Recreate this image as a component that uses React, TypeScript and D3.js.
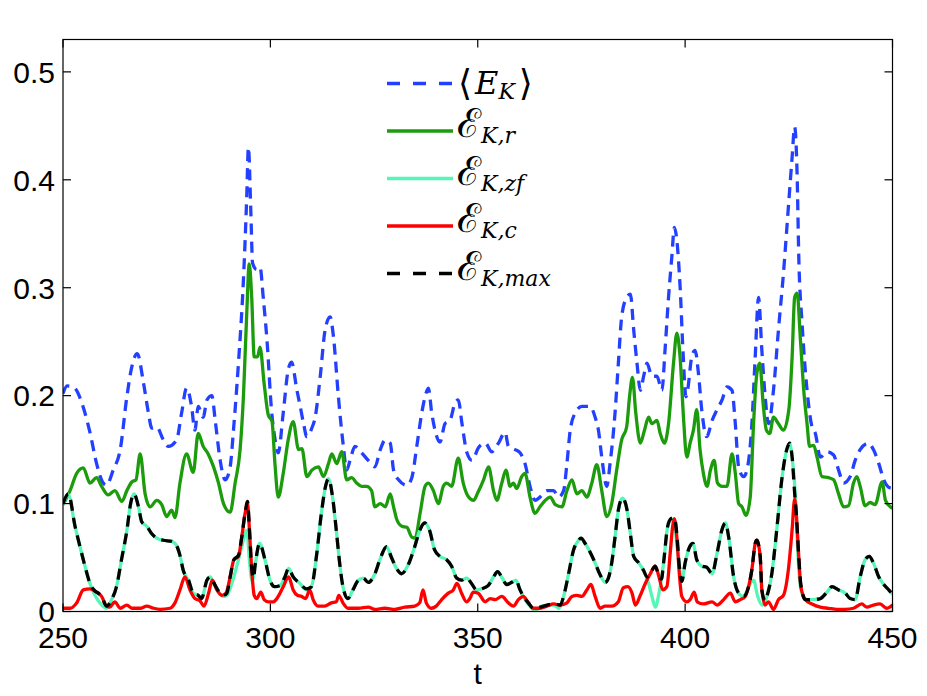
import * as d3 from 'd3';

// axis ticks
const xTicks = [250, 300, 350, 400, 450];
const yTicks = [0, 0.1, 0.2, 0.3, 0.4, 0.5];

// <E_K>  (t, value)
const meanEK: [number, number][] = [
  [250,0.202],[251,0.209],[252.5,0.208],[254.9,0.189],[256.5,0.166],[258.1,0.137],[259.7,0.119],[260.5,0.117],
  [262.1,0.131],[263.8,0.150],[265.4,0.199],[266.6,0.227],[267.9,0.239],[269.4,0.212],[270.6,0.184],[271.4,0.170],
  [272.6,0.171],[274.2,0.159],[275.4,0.153],[277.4,0.159],[278.6,0.184],[279.8,0.207],[281.0,0.190],[281.8,0.168],
  [282.6,0.190],[283.8,0.180],[284.7,0.196],[285.9,0.200],[286.7,0.177],[287.9,0.140],[289.1,0.122],[290.3,0.134],
  [291.1,0.168],[292.3,0.230],[293.5,0.307],[294.3,0.384],[294.7,0.430],[295.3,0.369],[295.7,0.323],[296.7,0.317],
  [297.5,0.319],[298.3,0.290],[299.3,0.245],[300.2,0.190],[301.1,0.160],[301.9,0.147],[303.1,0.184],[304.3,0.224],
  [305.1,0.231],[306.4,0.205],[307.2,0.190],[308.0,0.174],[308.8,0.162],[310.0,0.170],[310.8,0.180],[312.0,0.217],
  [313.2,0.261],[314.4,0.273],[315.2,0.255],[316.4,0.199],[317.6,0.153],[318.4,0.131],[319.2,0.140],[320.4,0.153],
  [322.0,0.147],[323.6,0.140],[325.2,0.134],[326.5,0.150],[327.7,0.159],[328.9,0.156],[329.7,0.131],[330.9,0.122],
  [332.9,0.117],[334.1,0.124],[335.3,0.153],[336.5,0.184],[337.3,0.199],[338.1,0.207],[338.9,0.184],[339.7,0.168],
  [340.9,0.157],[342.1,0.174],[343.3,0.177],[344.5,0.193],[345.3,0.196],[346.2,0.174],[347.4,0.147],[348.6,0.140],
  [350.2,0.152],[351.8,0.156],[353.4,0.148],[355.0,0.156],[356.6,0.166],[357.4,0.153],[359.0,0.150],[360.2,0.147],
  [361.4,0.137],[362.6,0.116],[363.8,0.103],[365.0,0.106],[366.7,0.112],[368.3,0.112],[369.5,0.106],[370.7,0.112],
  [371.5,0.137],[372.3,0.168],[373.5,0.184],[375.1,0.190],[377.1,0.190],[378.3,0.180],[379.1,0.168],[379.9,0.143],
  [381.1,0.116],[381.9,0.137],[383.1,0.184],[383.9,0.230],[384.7,0.273],[385.9,0.291],[386.8,0.294],[387.6,0.261],
  [388.4,0.230],[389.2,0.205],[390.0,0.218],[390.8,0.230],[392.0,0.218],[393.2,0.218],[394.4,0.205],[395.2,0.245],
  [396.0,0.291],[396.8,0.329],[397.4,0.356],[398.0,0.344],[398.8,0.300],[399.5,0.240],[400.2,0.199],[400.6,0.205],
  [401.6,0.236],[402.4,0.242],[403.2,0.221],[404.0,0.187],[405.2,0.162],[406.5,0.177],[407.7,0.187],[408.9,0.196],
  [410.1,0.208],[411.3,0.205],[412.1,0.174],[412.9,0.134],[414.1,0.125],[414.9,0.131],[416.1,0.174],[416.9,0.236],
  [417.7,0.291],[418.5,0.242],[419.3,0.199],[420.1,0.174],[421.3,0.205],[422.5,0.261],[423.7,0.313],[424.9,0.375],
  [425.8,0.421],[426.4,0.449],[427.0,0.405],[427.4,0.329],[428.2,0.267],[429.4,0.205],[430.6,0.171],[431.4,0.165],
  [432.6,0.143],[434.2,0.148],[435.8,0.145],[437.0,0.131],[438.2,0.119],[439.8,0.125],[441.0,0.140],[442.2,0.150],
  [444.2,0.156],[445.4,0.150],[446.7,0.137],[447.9,0.122],[449.1,0.115],[450,0.114],
];

// E_K,r
const epsR: [number, number][] = [
  [250,0.099],[251.7,0.112],[253.3,0.128],[254.9,0.133],[256.5,0.119],[258.1,0.124],[259.3,0.116],[260.9,0.108],
  [262.5,0.112],[264.2,0.102],[265.4,0.112],[266.6,0.120],[267.6,0.122],[268.6,0.146],[269.8,0.109],[271.0,0.097],
  [272.6,0.103],[273.8,0.099],[275.0,0.088],[276.2,0.094],[277.0,0.087],[278.2,0.119],[279.8,0.146],[281.4,0.129],
  [282.6,0.165],[283.8,0.153],[285.0,0.146],[286.3,0.134],[287.5,0.119],[288.7,0.100],[290.3,0.092],[291.5,0.119],
  [292.7,0.150],[293.5,0.199],[294.3,0.276],[294.9,0.322],[295.5,0.291],[296.1,0.236],[296.9,0.236],[297.5,0.245],
  [298.5,0.211],[299.5,0.182],[300.4,0.176],[301.1,0.137],[301.9,0.106],[303.1,0.128],[304.3,0.159],[305.5,0.176],
  [306.8,0.150],[307.6,0.151],[308.8,0.125],[310.0,0.131],[311.6,0.134],[312.8,0.125],[314.0,0.137],[314.8,0.146],
  [316.0,0.137],[317.2,0.148],[318.4,0.122],[319.6,0.124],[320.8,0.119],[322.0,0.116],[323.2,0.116],[324.4,0.112],
  [325.2,0.097],[326.5,0.100],[327.7,0.097],[328.9,0.109],[329.7,0.097],[330.5,0.085],[331.7,0.079],[332.9,0.078],
  [334.1,0.069],[334.9,0.068],[336.1,0.091],[337.3,0.116],[338.1,0.119],[339.3,0.112],[340.5,0.100],[341.7,0.116],
  [342.5,0.119],[343.7,0.116],[345.3,0.142],[346.5,0.119],[347.8,0.106],[349.0,0.103],[350.0,0.110],[351.4,0.122],
  [352.6,0.134],[353.8,0.112],[354.6,0.103],[355.8,0.119],[356.8,0.131],[357.8,0.116],[358.6,0.119],[359.4,0.114],
  [360.6,0.125],[361.4,0.128],[362.6,0.106],[363.8,0.091],[365.0,0.097],[366.3,0.103],[367.5,0.106],[368.7,0.099],
  [370.3,0.097],[371.5,0.112],[372.7,0.122],[373.9,0.109],[375.1,0.112],[376.3,0.106],[377.5,0.119],[378.7,0.136],
  [379.9,0.112],[381.1,0.088],[382.3,0.100],[383.5,0.131],[384.7,0.159],[385.9,0.171],[386.6,0.199],[387.3,0.217],
  [388.1,0.184],[389.2,0.156],[390.2,0.168],[391.2,0.180],[392.0,0.174],[393.2,0.177],[394.0,0.165],[395.0,0.156],
  [396.0,0.174],[397.2,0.230],[398.0,0.258],[398.8,0.235],[399.6,0.180],[400.4,0.143],[401.2,0.156],[402.0,0.168],
  [402.8,0.187],[403.6,0.150],[404.4,0.128],[405.3,0.116],[406.1,0.131],[407.0,0.140],[407.8,0.119],[408.9,0.116],
  [410.1,0.116],[411.3,0.146],[412.1,0.128],[412.9,0.100],[413.7,0.097],[414.7,0.089],[415.7,0.106],[416.5,0.174],
  [417.3,0.221],[418.0,0.230],[418.8,0.193],[419.6,0.168],[420.4,0.165],[421.3,0.180],[422.5,0.174],[423.7,0.168],
  [425.0,0.187],[425.8,0.236],[426.4,0.291],[427.0,0.295],[427.8,0.252],[428.6,0.205],[429.4,0.174],[430.0,0.153],
  [431.0,0.154],[431.8,0.143],[433.0,0.125],[434.6,0.124],[435.8,0.122],[437.0,0.109],[438.2,0.097],[439.4,0.098],
  [440.6,0.119],[441.4,0.125],[442.2,0.116],[443.4,0.098],[444.6,0.101],[445.8,0.099],[447.5,0.120],[448.3,0.103],
  [449.5,0.097],[450,0.096],
];

// E_K,zf
const epsZF: [number, number][] = [
  [250,0.099],[251.3,0.108],[252.9,0.079],[254.1,0.060],[255.3,0.042],[256.5,0.026],[257.7,0.015],[258.9,0.008],
  [260.5,0.003],[261.7,0.011],[262.9,0.023],[264.1,0.048],[265.4,0.075],[266.3,0.100],[267.1,0.109],[268.2,0.097],
  [269.0,0.083],[270.2,0.079],[271.4,0.072],[272.6,0.068],[274.2,0.066],[276.2,0.065],[277.4,0.061],[278.2,0.052],
  [279.0,0.038],[280.2,0.029],[281.4,0.017],[282.6,0.015],[283.4,0.012],[284.7,0.029],[285.5,0.032],[286.3,0.026],
  [287.5,0.018],[288.7,0.014],[289.5,0.015],[290.7,0.026],[291.9,0.042],[293.1,0.060],[294.3,0.075],[295.0,0.045],
  [295.6,0.028],[296.4,0.045],[297.4,0.063],[298.7,0.048],[299.9,0.029],[301.0,0.023],[302.3,0.024],[303.5,0.032],
  [304.4,0.040],[305.5,0.032],[307.1,0.026],[308.7,0.020],[309.9,0.023],[311.1,0.051],[312.3,0.091],[313.3,0.116],
  [314.0,0.123],[315.1,0.103],[315.9,0.075],[316.7,0.045],[317.5,0.023],[318.7,0.012],[319.9,0.020],[321.2,0.029],
  [322.4,0.031],[323.6,0.027],[325.2,0.035],[326.4,0.048],[328.0,0.060],[329.2,0.050],[330.4,0.040],[331.6,0.035],
  [333.2,0.043],[334.8,0.060],[336.0,0.075],[337.2,0.082],[338.4,0.075],[339.6,0.057],[340.9,0.051],[342.5,0.048],
  [343.7,0.042],[344.9,0.031],[346.1,0.029],[347.3,0.031],[348.5,0.026],[349.7,0.020],[350.9,0.021],[352.5,0.024],
  [353.8,0.032],[354.8,0.037],[355.9,0.031],[357.0,0.025],[358.2,0.027],[359.2,0.029],[360.2,0.020],[361.4,0.011],
  [362.6,0.005],[363.8,0.001],[365.5,0.005],[366.7,0.006],[368.3,0.006],[369.5,0.003],[370.7,0.014],[371.9,0.035],
  [373.1,0.057],[374.3,0.066],[374.9,0.068],[375.9,0.063],[377.1,0.055],[378.3,0.045],[379.5,0.034],[380.7,0.027],
  [381.5,0.031],[382.3,0.045],[383.1,0.069],[383.9,0.094],[384.9,0.105],[386.0,0.094],[386.8,0.072],[387.6,0.051],
  [388.8,0.045],[390.0,0.038],[391.2,0.026],[392.0,0.014],[392.8,0.004],[393.7,0.017],[394.8,0.045],[395.8,0.079],
  [396.6,0.086],[397.6,0.075],[398.6,0.042],[399.2,0.028],[400.0,0.045],[401.1,0.060],[401.9,0.063],[402.8,0.048],
  [404.0,0.042],[405.2,0.041],[406.5,0.035],[407.7,0.054],[408.9,0.076],[409.7,0.082],[410.5,0.069],[411.7,0.032],
  [412.9,0.017],[414.1,0.014],[415.3,0.023],[416.5,0.029],[417.5,0.014],[418.5,0.006],[419.7,0.014],[420.9,0.035],
  [422.1,0.076],[423.3,0.122],[424.5,0.150],[425.2,0.156],[425.8,0.143],[426.6,0.106],[427.1,0.060],[427.8,0.023],
  [429.0,0.011],[430.6,0.011],[432.6,0.012],[434.2,0.018],[435.4,0.023],[437.0,0.020],[438.6,0.017],[439.8,0.012],
  [441.0,0.011],[442.2,0.032],[443.4,0.048],[444.4,0.051],[445.4,0.045],[446.7,0.032],[447.9,0.025],[449.1,0.020],
  [450,0.016],
];

// E_K,c
const epsC: [number, number][] = [
  [250,0.003],[251.7,0.003],[253.3,0.008],[254.9,0.020],[256.5,0.021],[258.1,0.018],[259.3,0.014],[260.5,0.005],
  [261.3,0.004],[262.5,0.009],[263.8,0.003],[265.4,0.006],[266.6,0.003],[268.6,0.003],[270.2,0.005],[271.8,0.003],
  [273.4,0.002],[275.8,0.003],[277.0,0.008],[278.2,0.020],[279.4,0.032],[280.6,0.020],[281.8,0.012],[283.0,0.010],
  [284.0,0.005],[285.1,0.017],[286.0,0.029],[287.1,0.020],[288.3,0.015],[289.3,0.017],[290.3,0.032],[291.2,0.048],
  [292.3,0.051],[293.1,0.069],[293.9,0.091],[294.5,0.100],[294.9,0.079],[295.5,0.039],[296.1,0.015],[296.7,0.012],
  [297.7,0.018],[298.5,0.011],[299.5,0.009],[300.7,0.009],[301.9,0.014],[303.1,0.023],[304.4,0.032],[305.5,0.020],
  [306.5,0.015],[307.5,0.014],[308.5,0.012],[309.5,0.020],[310.3,0.011],[311.5,0.005],[313.1,0.005],[314.7,0.008],
  [315.9,0.009],[316.5,0.015],[317.5,0.008],[318.7,0.003],[321.2,0.003],[323.6,0.004],[325.2,0.002],[327.6,0.003],
  [330.0,0.002],[332.4,0.004],[334.8,0.005],[336.0,0.008],[336.8,0.020],[337.6,0.008],[338.8,0.003],[340.0,0.005],
  [341.3,0.011],[342.9,0.017],[344.1,0.020],[345.0,0.026],[346.1,0.017],[347.3,0.009],[348.1,0.012],[348.9,0.018],
  [350.1,0.017],[351.8,0.009],[353.0,0.012],[354.2,0.011],[355.8,0.014],[357.4,0.008],[358.6,0.005],[359.8,0.011],
  [361.0,0.014],[362.2,0.008],[363.4,0.003],[365.0,0.003],[366.7,0.005],[368.3,0.007],[369.9,0.006],[371.5,0.008],
  [372.7,0.014],[373.9,0.015],[375.1,0.014],[376.3,0.020],[377.3,0.025],[378.3,0.014],[379.5,0.003],[380.7,0.005],
  [382.3,0.005],[383.9,0.009],[385.1,0.022],[386.2,0.023],[387.2,0.017],[388.0,0.006],[389.2,0.015],[390.4,0.026],
  [391.6,0.035],[392.8,0.042],[393.7,0.032],[394.6,0.020],[395.6,0.023],[396.4,0.054],[397.0,0.079],[397.4,0.086],
  [398.0,0.069],[398.6,0.035],[399.2,0.014],[400.4,0.009],[401.2,0.011],[402.2,0.018],[402.9,0.009],[404.4,0.007],
  [406.5,0.009],[407.7,0.006],[409.3,0.011],[410.9,0.017],[412.1,0.009],[413.3,0.011],[414.5,0.014],[415.3,0.023],
  [416.1,0.039],[416.9,0.063],[417.3,0.066],[418.1,0.051],[418.5,0.020],[419.3,0.006],[420.1,0.009],[421.3,0.002],
  [422.5,0.011],[423.7,0.015],[424.9,0.039],[425.8,0.076],[426.4,0.104],[426.8,0.091],[427.4,0.051],[427.9,0.023],
  [429.0,0.011],[430.6,0.007],[432.6,0.004],[434.6,0.003],[436.6,0.002],[438.6,0.002],[440.6,0.003],[442.6,0.007],
  [443.8,0.004],[445.4,0.006],[447.0,0.007],[448.6,0.003],[450,0.006],
];

// E_K,max
const epsMax: [number, number][] = [
  [250,0.100],[251.3,0.109],[252.9,0.079],[254.1,0.060],[255.3,0.042],[256.5,0.026],[257.7,0.019],[258.5,0.017],
  [259.3,0.014],[260.5,0.005],[261.7,0.011],[262.9,0.023],[264.1,0.048],[265.4,0.075],[266.3,0.100],[267.1,0.109],
  [268.2,0.097],[269.0,0.083],[270.2,0.079],[271.4,0.072],[272.6,0.068],[274.2,0.066],[276.2,0.065],[277.4,0.061],
  [278.2,0.052],[279.0,0.038],[280.2,0.030],[281.4,0.017],[282.6,0.015],[283.4,0.012],[284.7,0.029],[285.5,0.032],
  [286.3,0.027],[287.5,0.019],[288.7,0.015],[289.5,0.017],[290.3,0.032],[291.2,0.048],[292.3,0.052],[293.1,0.069],
  [293.9,0.091],[294.5,0.102],[294.9,0.080],[295.5,0.040],[295.9,0.031],[296.4,0.045],[297.4,0.063],[298.7,0.048],
  [299.9,0.029],[301.0,0.023],[302.3,0.024],[303.5,0.032],[304.4,0.040],[305.5,0.032],[307.1,0.026],[308.7,0.021],
  [309.9,0.023],[311.1,0.051],[312.3,0.091],[313.3,0.116],[314.0,0.123],[315.1,0.103],[315.9,0.075],[316.7,0.045],
  [317.5,0.023],[318.7,0.012],[319.9,0.020],[321.2,0.029],[322.4,0.031],[323.6,0.027],[325.2,0.035],[326.4,0.048],
  [328.0,0.060],[329.2,0.050],[330.4,0.040],[331.6,0.035],[333.2,0.043],[334.8,0.060],[336.0,0.075],[337.2,0.082],
  [338.4,0.075],[339.6,0.057],[340.9,0.051],[342.5,0.048],[343.7,0.042],[344.9,0.031],[346.1,0.029],[347.3,0.031],
  [348.5,0.026],[349.7,0.020],[350.9,0.021],[352.5,0.024],[353.8,0.032],[354.8,0.037],[355.9,0.031],[357.0,0.025],
  [358.2,0.027],[359.2,0.029],[360.2,0.020],[361.0,0.014],[362.2,0.008],[363.4,0.003],[365.0,0.004],[366.7,0.006],
  [368.3,0.007],[369.9,0.006],[370.7,0.014],[371.9,0.035],[373.1,0.057],[374.3,0.066],[374.9,0.068],[375.9,0.063],
  [377.1,0.055],[378.3,0.045],[379.5,0.034],[380.7,0.027],[381.5,0.031],[382.3,0.045],[383.1,0.069],[383.9,0.094],
  [384.9,0.105],[386.0,0.094],[386.8,0.072],[387.6,0.051],[388.8,0.045],[390.0,0.038],[390.8,0.032],[391.6,0.035],
  [392.8,0.042],[393.7,0.032],[394.3,0.030],[394.8,0.045],[395.8,0.079],[396.6,0.086],[397.4,0.087],[398.0,0.072],
  [398.6,0.042],[399.2,0.028],[400.0,0.045],[401.1,0.060],[401.9,0.063],[402.8,0.048],[404.0,0.042],[405.2,0.041],
  [406.5,0.035],[407.7,0.054],[408.9,0.076],[409.7,0.082],[410.5,0.069],[411.7,0.032],[412.9,0.017],[414.1,0.014],
  [415.3,0.023],[416.1,0.039],[416.9,0.063],[417.3,0.066],[418.1,0.051],[418.5,0.020],[419.3,0.010],[419.7,0.014],
  [420.9,0.035],[422.1,0.076],[423.3,0.122],[424.5,0.150],[425.2,0.156],[425.8,0.143],[426.4,0.110],[426.8,0.091],
  [427.4,0.051],[427.9,0.025],[429.0,0.011],[430.6,0.011],[432.6,0.012],[434.2,0.018],[435.4,0.023],[437.0,0.020],
  [438.6,0.017],[439.8,0.012],[441.0,0.011],[442.2,0.032],[443.4,0.048],[444.4,0.051],[445.4,0.045],[446.7,0.032],
  [447.9,0.025],[449.1,0.020],[450,0.016],
];

const series = [
  { key: 'mean', data: meanEK, color: '#2440ff', dash: '11,7', main: 'E', sub: 'K', bracket: true },
  { key: 'r', data: epsR, color: '#1c9c0c', dash: '', main: '\u2130', sub: 'K,r', bracket: false },
  { key: 'zf', data: epsZF, color: '#55f7b6', dash: '', main: '\u2130', sub: 'K,zf', bracket: false },
  { key: 'c', data: epsC, color: '#ff0000', dash: '', main: '\u2130', sub: 'K,c', bracket: false },
  { key: 'max', data: epsMax, color: '#000000', dash: '11,7', main: '\u2130', sub: 'K,max', bracket: false },
];

export default function App() {
  const width = 927;
  const height = 696;
  const margin = { top: 39.5, right: 34.5, bottom: 84.5, left: 63 };
  const x0 = margin.left;
  const x1 = width - margin.right;
  const y0 = height - margin.bottom;
  const y1 = margin.top;

  const x = d3.scaleLinear().domain([250, 450]).range([x0, x1]);
  const y = d3.scaleLinear().domain([0, 0.53]).range([y0, y1]);

  const line = d3.line<[number, number]>()
    .x(d => x(d[0]))
    .y(d => y(d[1]))
    .curve(d3.curveMonotoneX);

  const tickLen = 8;
  const sans = "'Liberation Sans', Arial, Helvetica, sans-serif";
  const serif = "'DejaVu Serif', 'Liberation Serif', serif";

  const legendX = 387;
  const legendLen = 66;
  const legendY0 = 83.5;
  const legendStep = 47.5;

  return (
    <svg
      width={width}
      height={height}
      style={{ position: 'absolute', left: 0, top: 0, background: '#fff' }}
    >
      <defs>
        <clipPath id="plot-area">
          <rect x={x0} y={y1} width={x1 - x0} height={y0 - y1} />
        </clipPath>
      </defs>

      {/* series */}
      <g clipPath="url(#plot-area)">
        {series.map(s => (
          <path
            key={s.key}
            d={line(s.data) || ''}
            fill="none"
            stroke={s.color}
            strokeWidth={3.3}
            strokeDasharray={s.dash || undefined}
            strokeLinejoin="round"
          />
        ))}
      </g>

      {/* box */}
      <rect x={x0} y={y1} width={x1 - x0} height={y0 - y1} fill="none" stroke="#000" strokeWidth={1.2} />

      {/* x ticks */}
      {xTicks.map(t => (
        <g key={'x' + t}>
          <line x1={x(t)} x2={x(t)} y1={y0} y2={y0 - tickLen} stroke="#000" strokeWidth={1.2} />
          <line x1={x(t)} x2={x(t)} y1={y1} y2={y1 + tickLen} stroke="#000" strokeWidth={1.2} />
          <text x={x(t)} y={648} textAnchor="middle" fontFamily={sans} fontSize={30}>{t}</text>
        </g>
      ))}

      {/* y ticks */}
      {yTicks.map(t => (
        <g key={'y' + t}>
          <line x1={x0} x2={x0 + tickLen} y1={y(t)} y2={y(t)} stroke="#000" strokeWidth={1.2} />
          <line x1={x1} x2={x1 - tickLen} y1={y(t)} y2={y(t)} stroke="#000" strokeWidth={1.2} />
          <text x={55} y={y(t)} dy="0.36em" textAnchor="end" fontFamily={sans} fontSize={30}>{t}</text>
        </g>
      ))}

      <text x={(x0 + x1) / 2} y={684} textAnchor="middle" fontFamily={sans} fontSize={30}>t</text>

      {/* legend */}
      {series.map((s, i) => {
        const ly = legendY0 + i * legendStep;
        return (
          <g key={'lg' + s.key}>
            <line
              x1={legendX}
              x2={legendX + legendLen}
              y1={ly}
              y2={ly}
              stroke={s.color}
              strokeWidth={3.3}
              strokeDasharray={s.dash ? '13,13' : undefined}
            />
            {s.bracket ? (
              <text x={legendX + legendLen + 5} y={ly + 10} fontFamily={serif} fontSize={32}>
                <tspan fontSize={36} dy={1}>{'\u27E8'}</tspan>
                <tspan fontStyle="italic" dx={3} dy={-1}>{s.main}</tspan>
                <tspan fontStyle="italic" fontSize={22} dy={5}>{s.sub}</tspan>
                <tspan fontSize={36} dy={-4} dx={4}>{'\u27E9'}</tspan>
              </text>
            ) : (
              <text x={legendX + legendLen + 4} y={ly + 6} fontFamily={serif} fontSize={40}>
                <tspan>{s.main}</tspan>
                <tspan fontStyle="italic" fontSize={22} dy={6}>{s.sub}</tspan>
              </text>
            )}
          </g>
        );
      })}
    </svg>
  );
}
